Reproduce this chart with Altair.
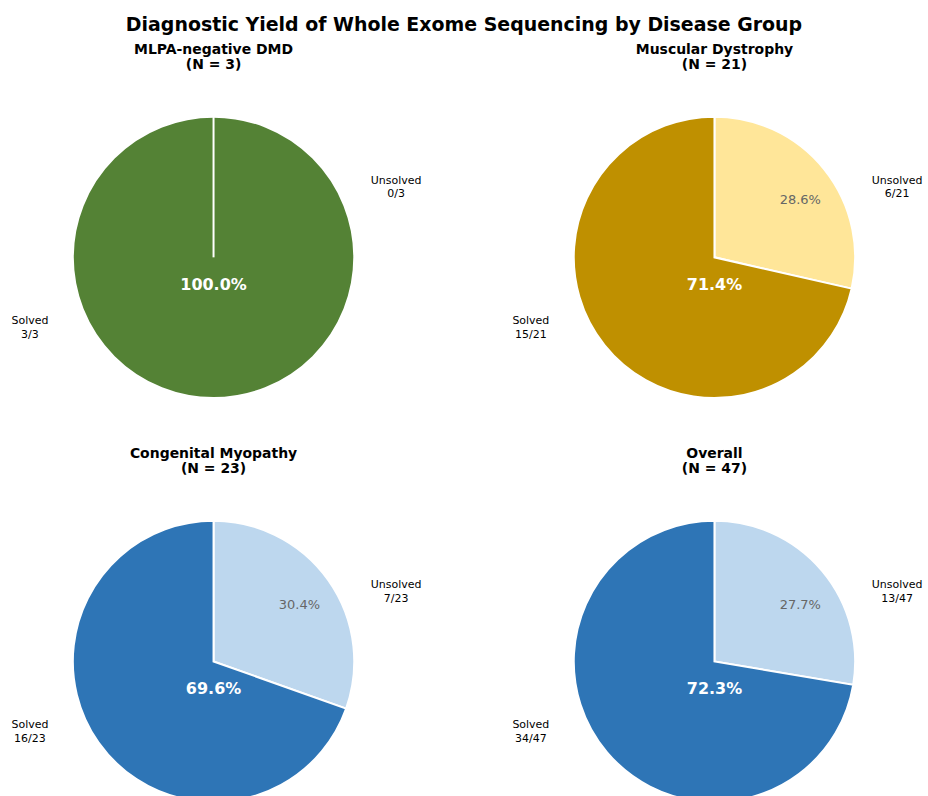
import altair as alt
import pandas as pd

groups = ["MLPA-negative DMD", "Muscular Dystrophy", "Congenital Myopathy", "Overall"]
solved = [3, 15, 16, 34]
totals = [3, 21, 23, 47]
dark_colors = ["#548235", "#BF9000", "#2E75B6", "#2E75B6"]
light_colors = ["#A9D18E", "#FFE699", "#BDD7EE", "#BDD7EE"]

FONT = "DejaVu Sans"
W, H = 428, 340
R = 141
CX, CY = W / 2, H / 2


def panel(i):
    s, n = solved[i], totals[i]
    u = n - s
    df = pd.DataFrame({
        "status": ["Unsolved", "Solved"],
        "count": [u, s],
        "ord": [0, 1],
        "color": [light_colors[i], dark_colors[i]],
        "label": [f"Unsolved\n{u}/{n}", f"Solved\n{s}/{n}"],
        "pct": [f"{100 * u / n:.1f}%", f"{100 * s / n:.1f}%"],
    })
    arcs = alt.Chart(df).mark_arc(outerRadius=R, stroke="white", strokeWidth=2).encode(
        theta=alt.Theta("count:Q", stack=True),
        order=alt.Order("ord:Q"),
        color=alt.Color("color:N", scale=None),
    )
    solved_df = df[df["status"] == "Solved"]
    unsolved_df = df[df["status"] == "Unsolved"]
    unsolved_pct_df = unsolved_df[unsolved_df["count"] > 0]
    zero_df = unsolved_df[unsolved_df["count"] == 0]

    layers = [arcs]
    if len(zero_df):
        # edge of the empty wedge at 12 o'clock
        edge = alt.Chart(zero_df).mark_rule(color="white", strokeWidth=2).encode(
            x=alt.value(CX), y=alt.value(CY - R), y2=alt.value(CY)
        )
        layers.append(edge)

    solved_pct = alt.Chart(solved_df).mark_text(
        font=FONT, fontSize=16, fontWeight="bold", color="white"
    ).encode(x=alt.value(CX), y=alt.value(CY + 28), text="pct:N")
    layers.append(solved_pct)

    if len(unsolved_pct_df):
        unsolved_pct = alt.Chart(unsolved_pct_df).mark_text(
            font=FONT, fontSize=13, color="#666666"
        ).encode(x=alt.value(CX + 86), y=alt.value(CY - 57), text="pct:N")
        layers.append(unsolved_pct)

    solved_lbl = alt.Chart(solved_df).mark_text(
        font=FONT, fontSize=11, color="black", lineBreak="\n", lineHeight=14
    ).encode(x=alt.value(CX - 184), y=alt.value(CY + 64), text="label:N")
    unsolved_lbl = alt.Chart(unsolved_df).mark_text(
        font=FONT, fontSize=11, color="black", lineBreak="\n", lineHeight=14
    ).encode(x=alt.value(CX + 183), y=alt.value(CY - 77), text="label:N")
    layers += [solved_lbl, unsolved_lbl]

    return alt.layer(*layers).properties(
        width=W,
        height=H,
        title=alt.TitleParams(
            text=[groups[i], f"(N = {n})"],
            font=FONT,
            fontSize=14,
            fontWeight="bold",
            lineHeight=15,
            offset=16,
            anchor="middle",
        ),
    )


row1 = alt.hconcat(panel(0), panel(1), spacing=74)
row2 = alt.hconcat(panel(2), panel(3), spacing=74)

chart = alt.vconcat(row1, row2, spacing=20).properties(
    title=alt.TitleParams(
        text="Diagnostic Yield of Whole Exome Sequencing by Disease Group",
        font=FONT,
        fontSize=19,
        fontWeight="bold",
        anchor="middle",
        offset=8,
    ),
    padding={"left": 0, "top": 15, "right": 0, "bottom": 0},
    background="white",
).configure_view(strokeWidth=0, stroke="transparent")

chart.save("out.html", embed_options={"renderer": "svg", "actions": False})
